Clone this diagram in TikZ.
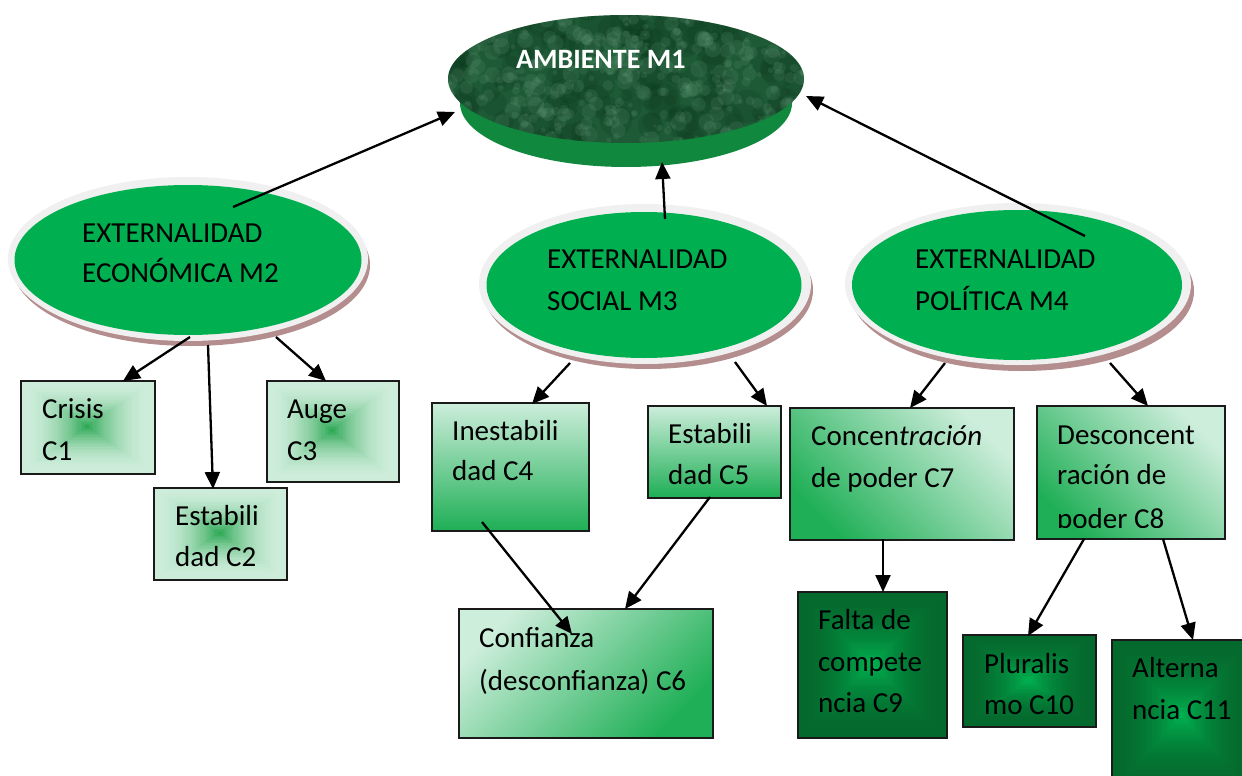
\documentclass[tikz,border=0pt]{standalone}
\usepackage{fontspec}
\setmainfont{Carlito}
\usetikzlibrary{arrows.meta,shapes.geometric}
\definecolor{egreen}{HTML}{00B050}
\definecolor{rimc}{HTML}{F0F0F0}
\definecolor{shadc}{HTML}{B48E8E}
\definecolor{bandc}{HTML}{10883D}
\definecolor{marbase}{HTML}{1E5A36}
\definecolor{marlt}{HTML}{79AE8E}
\definecolor{mardk}{HTML}{0A361C}
\definecolor{lightg}{HTML}{CEEEDC}
\definecolor{midg}{HTML}{1FAF56}
\definecolor{c1in}{HTML}{30A957}
\definecolor{c1out}{HTML}{CDEDDA}
\definecolor{c9in}{HTML}{00B050}
\definecolor{c9out}{HTML}{04692D}
\definecolor{bordc}{HTML}{1A1A1A}
\newcommand\rgrad[7]{%
 \pgfmathsetmacro\rgcx{(#1+#3)/2}%
 \pgfmathsetmacro\rgcy{(#2+#4)/2}%
 \pgfmathsetmacro\rghw{(#3-#1)/2}%
 \pgfmathsetmacro\rghh{(#4-#2)/2}%
 \foreach \i in {0,...,30}{%
   \pgfmathsetmacro\rgt{\i/30}%
   \pgfmathsetmacro\rgs{1-\rgt*0.97}%
   \pgfmathtruncatemacro\rgp{100*(#7)}%
   \fill[#6!\rgp!#5] (\rgcx-\rgs*\rghw,\rgcy-\rgs*\rghh) rectangle (\rgcx+\rgs*\rghw,\rgcy+\rgs*\rghh);
 }}
\tikzset{
  txt/.style={anchor=base west, inner sep=0pt, font=\fontsize{29}{35}\selectfont},
  boxb/.style={draw=bordc, line width=1.7pt, anchor=north west, inner sep=0pt},
  ell/.style={ellipse, fill=egreen, inner sep=0pt},
  arr/.style={line width=2.3pt, -{Triangle[length=17pt,width=15pt]}}
}
\begin{document}
\begin{tikzpicture}[x=1pt,y=-1pt]
\fill[white] (0,0) rectangle (1242,776);
\clip (0,0) rectangle (1242,776);

% ---------- M1 disk ----------
\fill[bandc] (626,103) ellipse [x radius=166pt, y radius=64pt];
\fill[bandc] (448,78) -- (460,103) -- (792,103) -- (803,78) -- cycle;
\begin{scope}
 \clip (626,79) ellipse [x radius=178pt, y radius=64pt];
 \fill[marbase] (440,10) rectangle (810,150);
 \pgfmathsetseed{11}
 \foreach \k in {1,...,160}{
   \pgfmathsetmacro\mx{445+rnd*365}
   \pgfmathsetmacro\my{12+rnd*136}
   \pgfmathsetmacro\mr{5+rnd*14}
   \fill[mardk, opacity=0.18] (\mx,\my) circle [radius=\mr pt];
 }
 \foreach \k in {1,...,420}{
   \pgfmathsetmacro\mx{445+rnd*365}
   \pgfmathsetmacro\my{12+rnd*136}
   \pgfmathsetmacro\mr{1.5+rnd*7}
   \fill[marlt, opacity=0.14] (\mx,\my) circle [radius=\mr pt];
 }
\end{scope}
\node[ellipse, minimum width=356pt, minimum height=128pt, inner sep=0pt] (m1) at (626,79) {};
\node[anchor=base west, inner sep=0pt, text=white, font=\fontsize{28}{34}\selectfont\bfseries] (m1t) at (516,68) {AMBIENTE M1};

% ---------- M2, M3, M4 ellipses ----------
\fill[shadc] (191,265) ellipse [x radius=179pt, y radius=81pt];
\fill[rimc] (188,259) ellipse [x radius=180pt, y radius=82pt];
\node[ell, minimum width=347pt, minimum height=150pt] (m2) at (188,260) {};
\node[txt] (m2a) at (82,242) {EXTERNALIDAD};
\node[txt] (m2b) at (82,282) {ECONÓMICA M2};

\fill[shadc] (648,290) ellipse [x radius=165pt, y radius=79pt];
\fill[rimc] (645,284) ellipse [x radius=166pt, y radius=80pt];
\node[ell, minimum width=315pt, minimum height=146pt] (m3) at (644,285) {};
\node[txt] (m3a) at (547,268) {EXTERNALIDAD};
\node[txt] (m3b) at (547,310) {SOCIAL M3};

\fill[shadc] (1022,291) ellipse [x radius=172pt, y radius=80pt];
\fill[rimc] (1018,284) ellipse [x radius=173pt, y radius=81pt];
\node[ell, minimum width=330pt, minimum height=150pt] (m4) at (1017,285) {};
\node[txt] (m4a) at (915,268) {EXTERNALIDAD};
\node[txt] (m4b) at (915,310) {POLÍTICA M4};

% ---------- boxes ----------
% C1
\rgrad{20}{380}{154}{473}{c1out}{c1in}{\rgt*\rgt}
\node[boxb, minimum width=134pt, minimum height=93pt] (c1) at (20,380) {};
\node[txt] (c1a) at (42,418) {Crisis};
\node[txt] (c1b) at (42,460) {C1};
% C3
\rgrad{266}{380}{398}{481}{c1out}{c1in}{\rgt*\rgt}
\node[boxb, minimum width=132pt, minimum height=101pt] (c3) at (266,380) {};
\node[txt] (c3a) at (287,418) {Auge};
\node[txt] (c3b) at (287,460) {C3};
% C2
\rgrad{153}{487}{286}{579}{c1out}{c1in}{\rgt*\rgt}
\node[boxb, minimum width=133pt, minimum height=92pt] (c2) at (153,487) {};
\node[txt] (c2a) at (175,525) {Estabili};
\node[txt] (c2b) at (175,566) {dad C2};
% C4
\fill[top color=lightg, bottom color=midg] (431,402) rectangle (588,530);
\node[boxb, minimum width=157pt, minimum height=128pt] (c4) at (431,402) {};
\node[txt] (c4a) at (452,440) {Inestabili};
\node[txt] (c4b) at (452,480) {dad C4};
% C5
\fill[top color=lightg, bottom color=midg] (647,405) rectangle (780,497);
\node[boxb, minimum width=133pt, minimum height=92pt] (c5) at (647,405) {};
\node[txt] (c5a) at (668,443) {Estabili};
\node[txt] (c5b) at (668,484) {dad C5};
% C6
\fill[top color=lightg, bottom color=midg, shading angle=45] (458,608) rectangle (712,737);
\node[boxb, minimum width=254pt, minimum height=129pt] (c6) at (458,608) {};
\node[txt] (c6a) at (479,647) {Confianza};
\node[txt] (c6b) at (479,690) {(desconfianza) C6};
% C7
\fill[top color=lightg, bottom color=midg, shading angle=-45] (789,407) rectangle (1013,539);
\node[boxb, minimum width=224pt, minimum height=132pt] (c7) at (789,407) {};
\node[txt] (c7a) at (811,445) {Concen\textit{tración}};
\node[txt] (c7b) at (811,487) {de poder C7};
% C8
\fill[top color=lightg, bottom color=midg, shading angle=-45] (1036,405) rectangle (1224,538);
\node[boxb, minimum width=188pt, minimum height=133pt] (c8) at (1036,405) {};
\node[txt] (c8a) at (1057,444) {Desconcent};
\node[txt] (c8b) at (1057,484) {ración de};
\begin{scope}
 \clip (1040,490) rectangle (1220,527);
 \node[txt] (c8c) at (1057,528) {poder C8};
\end{scope}
% C9
\rgrad{797}{591}{946}{737}{c9out}{c9in}{\rgt*\rgt}
\node[boxb, minimum width=149pt, minimum height=146pt] (c9) at (797,591) {};
\node[txt] (c9a) at (818,629) {Falta de};
\node[txt] (c9b) at (818,671) {compete};
\node[txt] (c9c) at (818,712) {ncia C9};
% C10
\rgrad{962}{634}{1095}{726}{c9out}{c9in}{\rgt*\rgt}
\node[boxb, minimum width=133pt, minimum height=92pt] (c10) at (962,634) {};
\node[txt] (c10a) at (984,673) {Pluralis};
\node[txt] (c10b) at (984,714) {mo C10};
% C11
\rgrad{1111}{639}{1252}{792}{c9out}{c9in}{\rgt*\rgt}
\node[boxb, minimum width=141pt, minimum height=153pt] (c11) at (1111,639) {};
\node[txt] (c11a) at (1132,677) {Alterna};
\node[txt] (c11b) at (1132,719) {ncia C11};

% ---------- connector end points ----------
\coordinate (m2up) at (233,207);
\coordinate (m1l) at (455,112);
\coordinate (m3up) at (665,219);
\coordinate (m1b) at (662,162);
\coordinate (m4up) at (1085,236);
\coordinate (m1r) at (806,96);
\coordinate (m2s1) at (190,337);
\coordinate (c1t) at (123,381);
\coordinate (m2s2) at (208,345);
\coordinate (c2t) at (213,489);
\coordinate (m2s3) at (276,337);
\coordinate (c3t) at (326,381);
\coordinate (m3s1) at (570,363);
\coordinate (c4t) at (532,404);
\coordinate (m3s2) at (735,362);
\coordinate (c5t) at (767,406);
\coordinate (m4s1) at (945,363);
\coordinate (c7t) at (910,408);
\coordinate (m4s2) at (1110,363);
\coordinate (c8t) at (1148,406);
\coordinate (c4s) at (482,522);
\coordinate (c6in) at (572,634);
\coordinate (c5s) at (710,497);
\coordinate (c6t) at (625,609);
\coordinate (c7s) at (883,539);
\coordinate (c9t) at (883,592);
\coordinate (c8s1) at (1084,539);
\coordinate (c10t) at (1028,636);
\coordinate (c8s2) at (1163,539);
\coordinate (c11t) at (1193,640);

% ---------- connectors ----------
\draw[arr] (m2up) -- (m1l);
\draw[arr] (m3up) -- (m1b);
\draw[arr] (m4up) -- (m1r);
\draw[arr] (m2s1) -- (c1t);
\draw[arr] (m2s2) -- (c2t);
\draw[arr] (m2s3) -- (c3t);
\draw[arr] (m3s1) -- (c4t);
\draw[arr] (m3s2) -- (c5t);
\draw[arr] (m4s1) -- (c7t);
\draw[arr] (m4s2) -- (c8t);
\draw[arr] (c4s) -- (c6in);
\draw[arr] (c5s) -- (c6t);
\draw[arr] (c7s) -- (c9t);
\draw[arr] (c8s1) -- (c10t);
\draw[arr] (c8s2) -- (c11t);
\end{tikzpicture}
\end{document}
